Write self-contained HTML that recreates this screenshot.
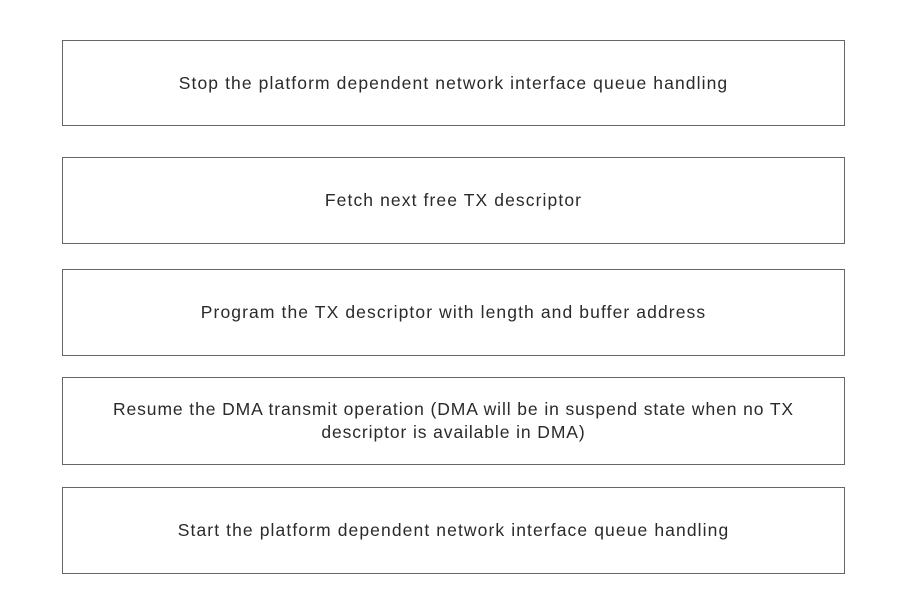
<!DOCTYPE html>
<html><head><style>
body{margin:0;width:898px;height:589px;background:#fff;position:relative;font-family:"Liberation Sans",sans-serif;}
.b{position:absolute;left:62px;width:783px;border:1.5px solid #666;display:flex;align-items:center;justify-content:center;text-align:center;font-size:17.5px;letter-spacing:1.1px;color:#2a2a2a;line-height:23px;box-sizing:border-box;padding:0 10px;}
</style></head><body>
<div class="b" style="top:40px;height:86px">Stop the platform dependent network interface queue handling</div>
<div class="b" style="top:157px;height:87px">Fetch next free TX descriptor</div>
<div class="b" style="top:269px;height:87px">Program the TX descriptor with length and buffer address</div>
<div class="b" style="top:377px;height:88px;letter-spacing:0.9px">Resume the DMA transmit operation (DMA will be in suspend state when no TX<br>descriptor is available in DMA)</div>
<div class="b" style="top:487px;height:87px">Start the platform dependent network interface queue handling</div>
</body></html>
